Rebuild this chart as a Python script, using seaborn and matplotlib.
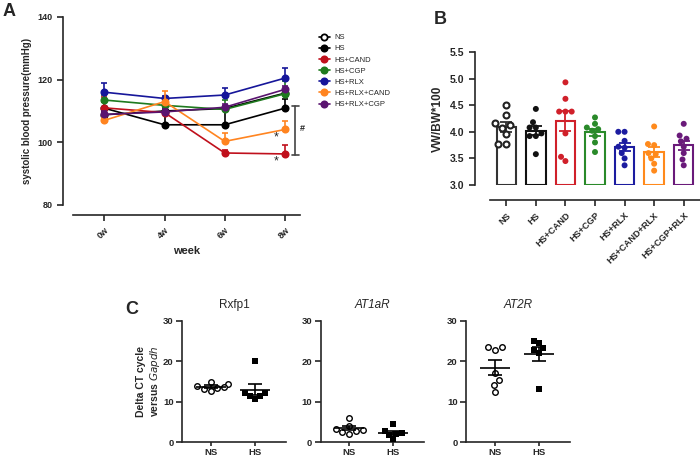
import numpy as np
import pandas as pd
import matplotlib
matplotlib.use('Agg')
import matplotlib.pyplot as plt
import seaborn as sns

# --- Panel A: systolic blood pressure over time (mean, SEM) ---
weeks = ['0w', '4w', '6w', '8w']
bp_groups = ['NS', 'HS', 'HS+CAND', 'HS+CGP', 'HS+RLX', 'HS+RLX+CAND', 'HS+RLX+CGP']
bp_mean = {
    'NS': [108.8, 110.0, 110.8, 115.7],
    'HS': [110.9, 105.6, 105.6, 110.9],
    'HS+CAND': [111.0, 109.5, 96.6, 96.3],
    'HS+CGP': [113.5, 111.8, 110.5, 115.5],
    'HS+RLX': [116.0, 114.0, 115.1, 120.5],
    'HS+RLX+CAND': [107.0, 113.0, 100.3, 104.1],
    'HS+RLX+CGP': [108.9, 109.7, 111.2, 116.9],
}
bp_sem = {
    'NS': [0.8, 0.8, 0.8, 0.8],
    'HS': [2.0, 3.8, 4.8, 2.8],
    'HS+CAND': [3.5, 3.0, 1.0, 2.7],
    'HS+CGP': [1.5, 2.0, 3.0, 4.0],
    'HS+RLX': [3.0, 0.8, 2.3, 3.2],
    'HS+RLX+CAND': [1.0, 3.5, 2.7, 2.7],
    'HS+RLX+CGP': [1.0, 1.0, 1.0, 1.0],
}
bp_colors = ['#000000', '#000000', '#c0101c', '#1f7a1f', '#16169a', '#ff8420', '#5a1470']

# --- Panel B: ventricle weight / body weight ---
organ_groups = ['NS', 'HS', 'HS+CAND', 'HS+CGP', 'HS+RLX', 'HS+CAND+RLX', 'HS+CGP+RLX']
vw_bw = {
    'NS': [4.51, 4.32, 4.17, 4.12, 4.08, 3.95, 3.78, 3.78],
    'HS': [4.43, 4.18, 4.08, 4.08, 3.97, 3.92, 3.92, 3.58],
    'HS+CAND': [4.93, 4.62, 4.38, 4.38, 4.38, 3.97, 3.53, 3.45],
    'HS+CGP': [4.27, 4.15, 4.08, 4.05, 4.02, 3.92, 3.80, 3.62],
    'HS+RLX': [4.00, 4.00, 3.83, 3.72, 3.70, 3.60, 3.50, 3.37],
    'HS+CAND+RLX': [4.10, 3.77, 3.75, 3.60, 3.58, 3.50, 3.40, 3.27],
    'HS+CGP+RLX': [4.15, 3.93, 3.87, 3.82, 3.72, 3.60, 3.48, 3.37],
}
organ_colors = ['#333333', '#111111', '#d0202a', '#2a8a2a', '#1c1ca0', '#ff8a1c', '#6a1a7a']

# --- Panel C: delta CT vs Gapdh ---
genes = ['Rxfp1', 'AT1aR', 'AT2R']
ct_groups = ['NS', 'HS']
delta_ct = {
    'Rxfp1': {'NS': [15.0, 14.3, 13.9, 13.5, 13.7, 13.1, 12.7],
              'HS': [20.0, 12.1, 12.1, 11.5, 11.5, 10.8]},
    'AT1aR': {'NS': [6.1, 3.9, 3.3, 3.0, 2.9, 2.6, 2.1],
              'HS': [4.5, 2.9, 2.2, 2.1, 1.8, 0.9]},
    'AT2R': {'NS': [23.4, 22.8, 23.4, 17.2, 15.4, 14.2, 12.5],
             'HS': [24.4, 24.9, 22.8, 23.2, 22.1, 13.1]},
}

sns.set_style('ticks')
plt.rcParams['font.family'] = ['Liberation Sans', 'DejaVu Sans']
plt.rcParams['axes.linewidth'] = 1.2
plt.rcParams['xtick.major.width'] = 1.2
plt.rcParams['ytick.major.width'] = 1.2
plt.rcParams['xtick.major.size'] = 4
plt.rcParams['ytick.major.size'] = 4

fig = plt.figure(figsize=(7.0, 4.58), dpi=100)
W, H = 700, 458


def px_axes(x0, y0, x1, y1):
    # axes from pixel box (top-left origin)
    return fig.add_axes([x0 / W, 1 - y1 / H, (x1 - x0) / W, (y1 - y0) / H])


def bold_ticks(ax, xsize, ysize=None):
    for lab in ax.get_xticklabels():
        lab.set_fontweight('bold')
        lab.set_fontsize(xsize)
    for lab in ax.get_yticklabels():
        lab.set_fontweight('bold')
        lab.set_fontsize(ysize or xsize)


# ================= Panel A =================
axa = px_axes(73, 17, 300, 205)
for g, c in zip(bp_groups, bp_colors):
    df = pd.DataFrame({'week': weeks, 'sbp': bp_mean[g]})
    mfc = 'white' if g == 'NS' else c
    sns.lineplot(data=df, x='week', y='sbp', color=c, marker='o', markersize=4.5,
                 mfc=mfc, mec=c, mew=1.3, linewidth=1.2, label=g, ax=axa, sort=False)
    err = np.array(bp_sem[g])
    axa.errorbar(weeks, bp_mean[g], yerr=[np.zeros_like(err), err], fmt='none',
                 ecolor=c, elinewidth=1.2, capsize=2.5, capthick=1.2)

axa.set_ylim(80, 140)
axa.set_xlim(-0.52, 3.25)
axa.set_yticks([80, 100, 120, 140])
axa.set_ylabel('systolic blood pressure(mmHg)', fontsize=7, fontweight='bold')
axa.set_xlabel('week', fontsize=8, fontweight='bold')
sns.despine(ax=axa, offset=7)
bold_ticks(axa, 6.5)
for lab in axa.get_xticklabels():
    lab.set_rotation(45)
    lab.set_ha('right')
    lab.set_rotation_mode('anchor')

# significance marks
axa.text(2.85, 101.6, '*', fontsize=9, ha='center', va='center')
axa.text(2.85, 93.8, '*', fontsize=9, ha='center', va='center')
bx = 3.17
axa.plot([bx, bx], [96.1, 111.6], color='#444444', lw=1.2, clip_on=False)
axa.plot([bx - 0.06, bx + 0.06], [96.1, 96.1], color='#444444', lw=1.2, clip_on=False)
axa.plot([bx - 0.06, bx + 0.06], [111.6, 111.6], color='#444444', lw=1.2, clip_on=False)
axa.text(3.29, 104.4, '#', fontsize=6.5, fontweight='bold', ha='center', va='center')

leg = axa.legend(loc='upper left', bbox_to_anchor=(312 / W, 1 - 27 / H),
                 bbox_transform=fig.transFigure, frameon=False, fontsize=5.5,
                 handlelength=1.4, labelspacing=0.5, handletextpad=0.6)

# ================= Panel B =================
axb = px_axes(490, 52, 700, 185)
df_b = pd.DataFrame([(g, v) for g in organ_groups for v in vw_bw[g]], columns=['group', 'ratio'])
pal_b = dict(zip(organ_groups, organ_colors))
sns.barplot(data=df_b, x='group', y='ratio', hue='group', palette=pal_b, order=organ_groups,
            fill=False, errorbar=None, width=0.66, linewidth=1.5, legend=False, ax=axb)
# bars start at the 3.0 baseline like the original
for p in axb.patches:
    p.set_height(p.get_height() - 3.0)
    p.set_y(3.0)

sns.swarmplot(data=df_b[df_b.group != 'NS'], x='group', y='ratio', hue='group',
              palette=pal_b, order=organ_groups, size=4.3, legend=False, ax=axb)
sns.swarmplot(data=df_b[df_b.group == 'NS'], x='group', y='ratio', order=organ_groups,
              color='white', edgecolor='#222222', linewidth=1.5, size=4.3, ax=axb)

stats_b = df_b.groupby('group')['ratio'].agg(['mean', 'sem']).reindex(organ_groups)
for i, g in enumerate(organ_groups):
    axb.errorbar(i, stats_b.loc[g, 'mean'], yerr=stats_b.loc[g, 'sem'], fmt='none',
                 ecolor=pal_b[g], elinewidth=1.3, capsize=4, capthick=1.3)

axb.set_ylim(3.0, 5.5)
axb.set_xlim(-0.55, 6.55)
axb.set_yticks([3.0, 3.5, 4.0, 4.5, 5.0, 5.5])
axb.set_ylabel('VW/BW*100', fontsize=8.5, fontweight='bold')
axb.set_xlabel('')
sns.despine(ax=axb, offset=11)
bold_ticks(axb, 6.6, 7.5)
for lab in axb.get_xticklabels():
    lab.set_rotation(45)
    lab.set_ha('right')
    lab.set_rotation_mode('anchor')

# ================= Panel C =================
c_boxes = [(182, 320.7, 286, 442.3), (320.7, 320.7, 424, 442.3), (466, 320.7, 570, 442.3)]
for k, gene in enumerate(genes):
    axc = px_axes(*c_boxes[k])
    d = delta_ct[gene]
    df_c = pd.DataFrame([(g, v) for g in ct_groups for v in d[g]], columns=['group', 'ct'])
    sns.swarmplot(data=df_c[df_c.group == 'NS'], x='group', y='ct', order=ct_groups,
                  color='white', edgecolor='black', linewidth=1.0, size=4, ax=axc)
    sns.swarmplot(data=df_c[df_c.group == 'HS'], x='group', y='ct', order=ct_groups,
                  color='black', marker='s', size=4, ax=axc)
    st = df_c.groupby('group')['ct'].agg(['mean', 'sem']).reindex(ct_groups)
    for i, g in enumerate(ct_groups):
        axc.hlines(st.loc[g, 'mean'], i - 0.34, i + 0.34, color='black', lw=1.2, zorder=4)
        axc.errorbar(i, st.loc[g, 'mean'], yerr=st.loc[g, 'sem'], fmt='none',
                     ecolor='black', elinewidth=1.2, capsize=5, capthick=1.2, zorder=4)
    axc.set_ylim(0, 30)
    axc.set_xlim(-0.65, 1.7)
    axc.set_yticks([0, 10, 20, 30])
    axc.set_xlabel('')
    axc.set_ylabel('')
    axc.tick_params(axis='x', length=3, pad=1.2)
    axc.tick_params(axis='y', pad=2)
    sns.despine(ax=axc)
    bold_ticks(axc, 6.8)
    axc.set_title(gene, fontsize=8.5, style='normal' if gene == 'Rxfp1' else 'italic', pad=9)
    if k == 0:
        axc.set_ylabel('Delta CT cycle\nversus $\\mathit{Gapdh}$', fontsize=7.5,
                       fontweight='bold', labelpad=1)

# panel letters
fig.text(3 / W, 1 - 12 / H, 'A', fontsize=13, fontweight='bold', va='center')
fig.text(434 / W, 1 - 20 / H, 'B', fontsize=13, fontweight='bold', va='center')
fig.text(125 / W, 1 - 310 / H, 'C', fontsize=13, fontweight='bold', va='center')

fig.savefig('out.png', dpi=100)
